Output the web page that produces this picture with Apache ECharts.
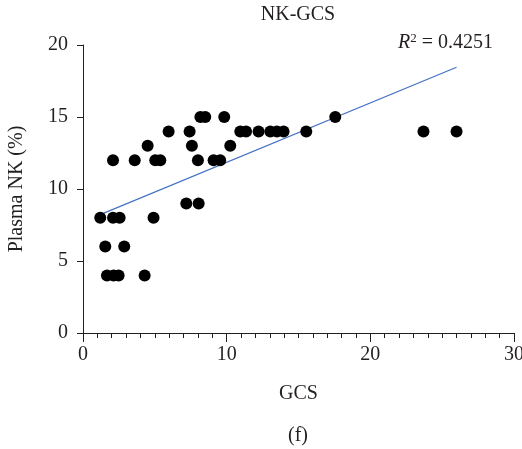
<!DOCTYPE html>
<html>
<head>
<meta charset="utf-8">
<script src="https://cdn.jsdelivr.net/npm/echarts@6/dist/echarts.min.js"></script>
<style>
  html, body { margin: 0; padding: 0; background: #fff; }
  #chart { width: 522px; height: 449px; }
</style>
</head>
<body>
<div id="chart"></div>
<script>
// GCS 값 (x)
const gcsValues = [
	1.2, 1.55, 1.67, 2.13, 2.09, 2.09, 2.55, 2.48, 2.87, 3.6, 4.29, 4.5, 4.91, 5.03, 5.38,
	5.96, 7.19, 7.42, 7.58, 8.0, 8.05, 8.17, 8.51, 9.09, 9.55, 9.83, 10.25, 10.95, 11.35,
	12.22, 13.04, 13.5, 13.96, 15.54, 17.56, 23.7, 26.0
];
// Plasma NK (%) 값 (y)
const nkValues = [
	8, 6, 4, 4, 12, 8, 8, 4, 6, 12, 4, 13, 8, 12, 12,
	14, 9, 14, 13, 12, 9, 15, 15, 12, 12, 15, 13, 14, 14,
	14, 14, 14, 14, 14, 15, 14, 14
];
// 추세선 양 끝점
const trendX = [1.2, 26.0];
const trendY = [8.22, 18.45];

const xTicks = [0, 10, 20, 30];
const yTicks = [0, 5, 10, 15, 20];

const serif = '"Liberation Serif", "DejaVu Serif", serif';
const ink = '#231f20';
const fs = 20;

const chart = echarts.init(document.getElementById('chart'), null, { renderer: 'canvas' });

const points = gcsValues.map((x, i) => [x, nkValues[i]]);
const trend = trendX.map((x, i) => [x, trendY[i]]);

const option = {
	backgroundColor: '#fff',
	animation: false,
	grid: { left: 83, right: 8, top: 45, bottom: 116, outerBoundsMode: 'none', containLabel: false },
	xAxis: {
		type: 'value',
		min: xTicks[0],
		max: xTicks[xTicks.length - 1],
		interval: 10,
		name: 'GCS',
		nameLocation: 'middle',
		nameGap: 51,
		nameTextStyle: { fontFamily: serif, fontSize: fs, color: ink },
		axisLine: { show: true, lineStyle: { color: ink, width: 1 } },
		axisTick: { show: true, length: 9, lineStyle: { color: ink } },
		minorTick: { show: true, splitNumber: 10, length: 5, lineStyle: { color: ink } },
		axisLabel: { fontFamily: serif, fontSize: fs, color: ink, margin: 12 },
		splitLine: { show: false }
	},
	yAxis: {
		type: 'value',
		min: yTicks[0],
		max: yTicks[yTicks.length - 1],
		interval: 5,
		name: 'Plasma NK (%)',
		nameLocation: 'middle',
		nameGap: 56,
		nameTextStyle: { fontFamily: serif, fontSize: fs, color: ink },
		axisLine: { show: true, lineStyle: { color: ink, width: 1 } },
		axisTick: { show: true, length: 6, lineStyle: { color: ink } },
		axisLabel: { fontFamily: serif, fontSize: fs, color: ink, margin: 15 },
		splitLine: { show: false }
	},
	graphic: [
		{
			type: 'text',
			x: 298,
			y: 15,
			style: {
				text: 'NK-GCS', fontFamily: serif, fontSize: fs, fill: ink,
				align: 'center', verticalAlign: 'middle'
			}
		},
		{
			type: 'text',
			x: 398,
			y: 43,
			style: {
				text: '{i|R}{s|2}{n| = 0.4251}',
				verticalAlign: 'middle',
				rich: {
					i: { fontFamily: serif, fontSize: fs, fontStyle: 'italic', fill: ink, lineHeight: 22 },
					s: { fontFamily: serif, fontSize: 13, fill: ink, lineHeight: 11, verticalAlign: 'top' },
					n: { fontFamily: serif, fontSize: fs, fill: ink, lineHeight: 22 }
				}
			}
		},
		{
			type: 'text',
			x: 298,
			y: 436,
			style: {
				text: '(f)', fontFamily: serif, fontSize: fs, fill: ink,
				align: 'center', verticalAlign: 'middle'
			}
		}
	],
	series: [
		{
			name: 'trend',
			type: 'line',
			data: trend,
			symbol: 'none',
			lineStyle: { color: '#4472c4', width: 1.2 },
			z: 2
		},
		{
			name: 'NK-GCS',
			type: 'scatter',
			data: points,
			symbol: 'circle',
			symbolSize: 12,
			itemStyle: { color: '#000', opacity: 1 },
			z: 3
		}
	]
};

chart.setOption(option);
</script>
</body>
</html>
